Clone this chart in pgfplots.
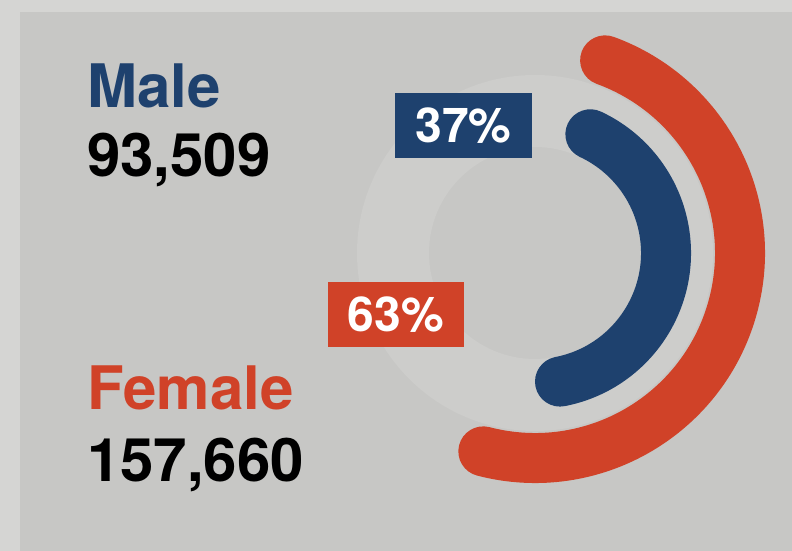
\documentclass[border=0pt]{standalone}
\usepackage{pgfplots}
\pgfplotsset{compat=1.18}
\usepackage{fontspec}
\setmainfont{TeX Gyre Heros}
\definecolor{mred}{HTML}{D04228}
\definecolor{mblue}{HTML}{1E416E}
\definecolor{bgA}{HTML}{D5D5D3}
\definecolor{bgB}{HTML}{C7C7C5}
\definecolor{ring}{HTML}{CDCDCB}
\begin{document}
\begin{tikzpicture}
\begin{axis}[
  width=792pt, height=551pt, scale only axis,
  xmin=0, xmax=792, ymin=0, ymax=551,
  hide axis, clip=false]
  % background
  \fill[bgA] (axis cs:0,0) rectangle (axis cs:792,551);
  \fill[bgB] (axis cs:20,0) rectangle (axis cs:792,539);
  \coordinate (C) at (axis cs:535,298);
  % faint track ring
  \fill[ring, even odd rule] (C) circle[radius=178pt] (C) circle[radius=106pt];
  % arcs: Female 63% (outer), Male 37% (inner)
  \draw[mred, line width=50pt, line cap=round, shift={(C)}]
     (-104.6:205pt) arc[start angle=-104.6, end angle=70, radius=205pt];
  \draw[mblue, line width=50pt, line cap=round, shift={(C)}]
     (-79:131pt) arc[start angle=-79, end angle=65, radius=131pt];
  % percentage boxes
  \node[fill=mblue, text=white, minimum width=137pt, minimum height=65pt, inner sep=0pt,
        font=\fontsize{48}{48}\selectfont\bfseries] at (axis cs:463.5,425.5) {37\%};
  \node[fill=mred, text=white, minimum width=136pt, minimum height=65pt, inner sep=0pt,
        font=\fontsize{48}{48}\selectfont\bfseries] at (axis cs:396,236.5) {63\%};
  % labels
  \node[anchor=base west, inner sep=0pt, text=mblue, font=\fontsize{60}{60}\selectfont\bfseries]
     at (axis cs:87,443) {Male};
  \node[anchor=base west, inner sep=0pt, text=black, font=\fontsize{60}{60}\selectfont\bfseries]
     at (axis cs:87,374) {93,509};
  \node[anchor=base west, inner sep=0pt, text=mred, font=\fontsize{60}{60}\selectfont\bfseries]
     at (axis cs:87,141) {Female};
  \node[anchor=base west, inner sep=0pt, text=black, font=\fontsize{60}{60}\selectfont\bfseries]
     at (axis cs:87,69) {157,660};
\end{axis}
\end{tikzpicture}
\end{document}
